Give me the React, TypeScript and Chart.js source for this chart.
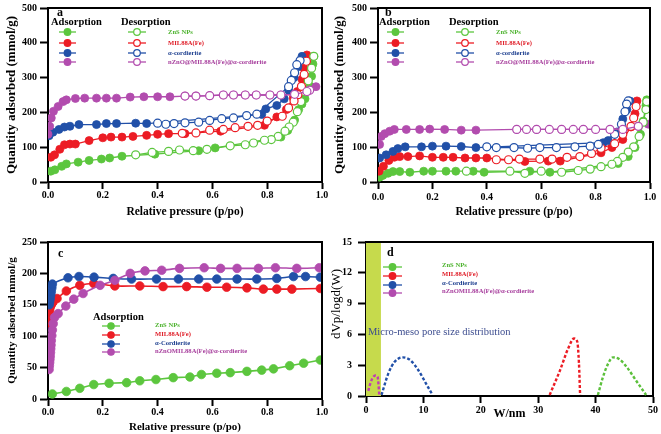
import React, { useEffect, useRef } from 'react';
import { Chart, registerables } from 'chart.js';
Chart.register(...registerables);

const W = 661;
const H = 434;
const FONT = '"Liberation Serif", "Times New Roman", serif';

const GREEN = '#5cc63e';
const RED = '#ec1c24';
const BLUE = '#2150a8';
const PINK = '#b24cae';
const TXT = ['#4db32e', '#e0202a', '#1d3f8f', '#a8409e'];
const BAND = '#c6da4c';

// ---------- tick labels ----------
const pressureTicks = ['0.0', '0.2', '0.4', '0.6', '0.8', '1.0'];
const abYTicks = ['0', '100', '200', '300', '400', '500'];
const cYTicks = ['0', '50', '100', '150', '200', '250'];
const dXTicks = ['0', '10', '20', '30', '40', '50'];
const dYTicks = ['0', '3', '6', '9', '12', '15'];

const namesAB = ['ZnS NPs', 'MIL88A(Fe)', 'α-cordierite', 'nZnO@MIL88A(Fe)@α-cordierite'];
const namesCD = ['ZnS NPs', 'MIL88A(Fe)', 'α-Cordierite', 'nZnOMIL88A(Fe)@α-cordierite'];

// ---------- panel a ----------
const aZnsAdsX = [0.01, 0.025, 0.05, 0.067, 0.11, 0.15, 0.195, 0.225, 0.27, 0.39, 0.55, 0.61, 0.85, 0.875, 0.9, 0.915, 0.927, 0.938, 0.957, 0.962, 0.967, 0.97];
const aZnsAdsY = [31, 35, 45, 52, 57, 62, 66, 69, 74, 80, 90, 98, 129, 148, 178, 208, 224, 239, 275, 304, 339, 361];
const aZnsDesX = [0.97, 0.962, 0.95, 0.934, 0.923, 0.91, 0.895, 0.88, 0.865, 0.84, 0.815, 0.79, 0.75, 0.72, 0.665, 0.58, 0.53, 0.48, 0.44, 0.38, 0.32];
const aZnsDesY = [361, 327, 291, 260, 231, 202, 172, 158, 146, 131, 122, 120, 112, 107, 104, 94, 90, 92, 88, 85, 78];

const aMilAdsX = [0.01, 0.024, 0.043, 0.06, 0.08, 0.1, 0.15, 0.2, 0.23, 0.27, 0.31, 0.36, 0.4, 0.44, 0.5, 0.63, 0.79, 0.835, 0.87, 0.895, 0.91, 0.927, 0.934, 0.945];
const aMilAdsY = [71, 78, 94, 107, 109, 109, 119, 127, 129, 129, 131, 134, 137, 139, 139, 146, 163, 187, 208, 242, 260, 295, 327, 365];
const aMilDesX = [0.943, 0.935, 0.925, 0.912, 0.898, 0.878, 0.855, 0.8, 0.765, 0.73, 0.683, 0.64, 0.59, 0.54, 0.49];
const aMilDesY = [347, 309, 275, 251, 233, 213, 189, 175, 163, 160, 156, 151, 149, 141, 140];

const aCorAdsX = [0.004, 0.018, 0.04, 0.06, 0.08, 0.113, 0.177, 0.213, 0.25, 0.32, 0.36, 0.78, 0.795, 0.835, 0.862, 0.878, 0.898, 0.912, 0.927];
const aCorAdsY = [133, 143, 151, 158, 160, 165, 165, 168, 168, 169, 168, 194, 210, 220, 239, 264, 300, 331, 361];
const aCorDesX = [0.92, 0.908, 0.9, 0.888, 0.878, 0.762, 0.725, 0.677, 0.634, 0.59, 0.55, 0.5, 0.46, 0.43, 0.4];
const aCorDesY = [349, 337, 314, 292, 274, 195, 191, 184, 182, 177, 172, 170, 168, 166, 169];

const aNzAdsX = [0.0, 0.006, 0.012, 0.02, 0.037, 0.055, 0.067, 0.1, 0.134, 0.177, 0.213, 0.25, 0.3, 0.35, 0.4, 0.445, 0.5, 0.54, 0.59, 0.64, 0.677, 0.72, 0.76, 0.81, 0.85, 0.9, 0.945, 0.978];
const aNzAdsY = [137, 160, 184, 203, 217, 231, 236, 240, 241, 241, 241, 241, 244, 245, 245, 245, 247, 247, 248, 250, 250, 250, 250, 250, 250, 252, 260, 274];
const aNzDesX = [0.955, 0.945, 0.9, 0.85, 0.81, 0.76, 0.72, 0.677, 0.64, 0.59, 0.54, 0.5];
const aNzDesY = [264, 260, 252, 250, 250, 250, 250, 250, 250, 248, 247, 247];

// ---------- panel b ----------
const bZnsAdsX = [0.006, 0.018, 0.037, 0.055, 0.08, 0.117, 0.168, 0.2, 0.25, 0.286, 0.35, 0.39, 0.558, 0.632, 0.883, 0.92, 0.945, 0.965, 0.975, 0.985, 0.988];
const bZnsAdsY = [14, 19, 25, 30, 30, 28, 31, 31, 31, 31, 31, 28, 31, 28, 53, 73, 99, 137, 175, 220, 236];
const bZnsDesX = [0.988, 0.985, 0.975, 0.96, 0.94, 0.92, 0.9, 0.88, 0.86, 0.82, 0.78, 0.736, 0.675, 0.6, 0.54, 0.485, 0.325];
const bZnsDesY = [231, 208, 172, 131, 101, 86, 71, 59, 51, 44, 37, 33, 28, 31, 25, 31, 31];

const bMilAdsX = [0.004, 0.02, 0.04, 0.06, 0.08, 0.11, 0.153, 0.2, 0.24, 0.276, 0.32, 0.36, 0.4, 0.54, 0.626, 0.67, 0.82, 0.86, 0.9, 0.93, 0.945, 0.952];
const bMilAdsY = [31, 45, 62, 71, 73, 73, 75, 71, 71, 71, 69, 69, 69, 59, 60, 60, 84, 99, 122, 158, 196, 233];
const bMilDesX = [0.949, 0.94, 0.93, 0.9, 0.87, 0.82, 0.785, 0.742, 0.695, 0.64, 0.595, 0.52, 0.48, 0.435];
const bMilDesY = [217, 184, 160, 137, 110, 97, 82, 73, 71, 66, 66, 66, 64, 64];

const bCorAdsX = [0.006, 0.03, 0.055, 0.073, 0.1, 0.16, 0.2, 0.25, 0.306, 0.36, 0.828, 0.846, 0.879, 0.9, 0.915, 0.926];
const bCorAdsY = [69, 78, 88, 96, 101, 101, 103, 103, 102, 99, 113, 119, 144, 181, 208, 233];
const bCorDesX = [0.92, 0.914, 0.908, 0.895, 0.87, 0.81, 0.78, 0.724, 0.656, 0.595, 0.55, 0.5, 0.435, 0.4];
const bCorDesY = [233, 224, 202, 166, 137, 108, 103, 101, 99, 99, 97, 99, 99, 101];

const bNzAdsX = [0.006, 0.012, 0.025, 0.043, 0.06, 0.104, 0.153, 0.19, 0.245, 0.306, 0.36, 0.51, 0.583, 0.675, 0.755, 0.853, 0.957, 0.994];
const bNzAdsY = [108, 131, 139, 146, 151, 151, 151, 152, 151, 149, 149, 151, 151, 151, 151, 151, 160, 166];
const bNzDesX = [0.957, 0.9, 0.853, 0.8, 0.755, 0.718, 0.675, 0.63, 0.583, 0.546, 0.51];
const bNzDesY = [160, 151, 151, 151, 151, 151, 151, 151, 151, 151, 151];

// ---------- panel c ----------
const cZnsX = [0.016, 0.067, 0.116, 0.167, 0.223, 0.287, 0.335, 0.394, 0.457, 0.518, 0.56, 0.616, 0.665, 0.726, 0.78, 0.823, 0.882, 0.933, 0.994];
const cZnsY = [8, 12, 17, 23, 25, 26, 29, 31, 34, 35, 39, 41, 42, 44, 46, 48, 53, 57, 62];
const cMilX = [0.002, 0.004, 0.006, 0.008, 0.012, 0.018, 0.033, 0.067, 0.116, 0.167, 0.244, 0.335, 0.42, 0.506, 0.58, 0.652, 0.726, 0.786, 0.835, 0.89, 0.994];
const cMilY = [121, 130, 140, 146, 150, 154, 160, 172, 181, 184, 180, 180, 179, 179, 178, 178, 177, 175, 175, 175, 176];
const cCorX = [0.004, 0.006, 0.008, 0.01, 0.012, 0.014, 0.016, 0.073, 0.113, 0.168, 0.238, 0.305, 0.396, 0.476, 0.55, 0.616, 0.69, 0.762, 0.835, 0.896, 0.94, 0.994];
const cCorY = [150, 155, 160, 166, 171, 177, 183, 193, 195, 194, 192, 191, 191, 191, 191, 191, 191, 191, 192, 195, 195, 194];
const cNzX = [0.004, 0.005, 0.006, 0.007, 0.008, 0.009, 0.01, 0.011, 0.012, 0.014, 0.016, 0.019, 0.024, 0.037, 0.065, 0.094, 0.128, 0.19, 0.244, 0.3, 0.354, 0.415, 0.48, 0.57, 0.63, 0.69, 0.768, 0.83, 0.908, 0.99];
const cNzY = [47, 53, 58, 63, 68, 74, 80, 86, 93, 101, 110, 120, 130, 136, 148, 159, 168, 181, 189, 200, 204, 205, 208, 209, 208, 208, 208, 209, 208, 209];

// ---------- panel d ----------
const dBandEnd = 2.6;
const dNzX = [0.4, 0.8, 1.2, 1.6, 2.0, 2.2, 2.3];
const dNzY = [0.5, 1.3, 1.8, 2.0, 1.9, 1.0, 0.1];
const dCorX = [2.7, 3.9, 5.0, 6.4, 7.7, 9.1, 10.6, 11.6];
const dCorY = [0.1, 2.2, 3.34, 3.76, 3.5, 2.53, 1.07, 0.1];
const dMilX = [32.0, 33.8, 35.2, 36.25, 36.8, 37.1, 37.3];
const dMilY = [0.1, 2.5, 4.6, 5.6, 5.3, 3.2, 0.1];
const dZnsX = [40.4, 41.3, 42.2, 43.0, 44.2, 45.6, 47.0, 48.8];
const dZnsY = [0.1, 1.88, 3.17, 3.76, 3.56, 2.69, 1.55, 0.1];

// ---------- helpers ----------
const pts = (xs: number[], ys: number[]) => xs.map((x, i) => ({ x, y: ys[i] }));

function series(label: string, xs: number[], ys: number[], color: string, filled: boolean, r = 4, lw = 1.3, tension = 0) {
  return {
    label,
    data: pts(xs, ys),
    borderColor: color,
    backgroundColor: color,
    borderWidth: lw,
    pointRadius: r,
    pointBorderWidth: filled ? 0.8 : 1.2,
    pointBackgroundColor: filled ? color : '#ffffff',
    pointBorderColor: color,
    fill: false,
    tension,
  };
}

function dashed(label: string, xs: number[], ys: number[], color: string) {
  return {
    label,
    data: pts(xs, ys),
    borderColor: color,
    borderWidth: 2.4,
    borderDash: [3, 2],
    pointRadius: 0,
    fill: false,
    cubicInterpolationMode: 'monotone',
  };
}

function tickFont(size = 10) {
  return { family: FONT, size, weight: 'bold', lineHeight: 1 };
}

function xAxis(o: any) {
  return {
    type: 'linear',
    min: o.min,
    max: o.max,
    ticks: {
      stepSize: o.step,
      autoSkip: false,
      maxRotation: 0,
      padding: o.pad,
      color: '#000',
      font: tickFont(),
      callback: (_v: any, i: number) => o.labels[i],
    },
    grid: { drawOnChartArea: false, drawTicks: true, tickLength: 7, tickWidth: 2, tickColor: '#000' },
    border: { display: true, color: '#000', width: 2 },
    title: { display: true, text: o.title, color: '#000', font: { family: FONT, size: o.tsize, weight: 'bold', lineHeight: 1.2 }, padding: 0 },
    afterFit: (s: any) => { s.height = o.h; },
  };
}

function yAxis(o: any) {
  return {
    type: 'linear',
    min: o.min,
    max: o.max,
    ticks: {
      stepSize: o.step,
      autoSkip: false,
      padding: o.pad,
      color: '#000',
      font: tickFont(),
      callback: (_v: any, i: number) => o.labels[i],
    },
    grid: { drawOnChartArea: false, drawTicks: true, tickLength: 8, tickWidth: 2, tickColor: '#000' },
    border: { display: true, color: '#000', width: 2 },
    title: { display: !!o.title, text: o.title || '', color: '#000', font: { family: FONT, size: o.tsize || 12, weight: 'bold', lineHeight: 1.2 }, padding: 0 },
    afterFit: (s: any) => { s.width = o.w; },
  };
}

const decorPlugin = {
  id: 'decor',
  beforeDatasetsDraw(chart: any, _a: any, opts: any) {
    if (opts && opts.band) {
      const { ctx, chartArea, scales } = chart;
      const x1 = scales.x.getPixelForValue(opts.band.from);
      const x2 = scales.x.getPixelForValue(opts.band.to);
      ctx.save();
      ctx.fillStyle = opts.band.color;
      ctx.fillRect(x1, chartArea.top, x2 - x1, chartArea.bottom - chartArea.top);
      ctx.restore();
    }
  },
  afterDraw(chart: any, _a: any, opts: any) {
    const { ctx, chartArea } = chart;
    ctx.save();
    ctx.strokeStyle = '#000';
    ctx.lineWidth = 2;
    ctx.beginPath();
    ctx.moveTo(chartArea.left, chartArea.top);
    ctx.lineTo(chartArea.right, chartArea.top);
    ctx.lineTo(chartArea.right, chartArea.bottom);
    ctx.stroke();
    const markers = (opts && opts.markers) || [];
    for (const m of markers) {
      ctx.strokeStyle = m.color;
      ctx.lineWidth = 1.3;
      ctx.beginPath();
      ctx.moveTo(m.x1, m.y);
      ctx.lineTo(m.x2, m.y);
      ctx.stroke();
      ctx.beginPath();
      ctx.arc((m.x1 + m.x2) / 2, m.y, m.r, 0, Math.PI * 2);
      ctx.fillStyle = m.filled ? m.color : '#ffffff';
      ctx.fill();
      ctx.lineWidth = 1.2;
      ctx.stroke();
    }
    const texts = (opts && opts.texts) || [];
    for (const t of texts) {
      ctx.save();
      ctx.font = t.font;
      ctx.fillStyle = t.color;
      ctx.textAlign = t.align || 'left';
      ctx.textBaseline = 'middle';
      ctx.translate(t.x, t.y);
      if (t.rotate) ctx.rotate(t.rotate);
      ctx.fillText(t.text, 0, 0);
      ctx.restore();
    }
    ctx.restore();
  },
};

const colors = [GREEN, RED, BLUE, PINK];

function legendAB(ox: number, letter: string) {
  const rows = [32, 43, 53, 62];
  const markers: any[] = [];
  const texts: any[] = [
    { text: letter, x: ox + 57, y: 12.5, font: `bold 12px ${FONT}`, color: '#000' },
    { text: 'Adsorption', x: ox + 51, y: 22, font: `bold 10.5px ${FONT}`, color: '#000' },
    { text: 'Desorption', x: ox + 121, y: 22, font: `bold 10.5px ${FONT}`, color: '#000' },
  ];
  rows.forEach((y, i) => {
    markers.push({ x1: ox + 59, x2: ox + 76, y, r: 3.3, color: colors[i], filled: true });
    markers.push({ x1: ox + 128, x2: ox + 146, y, r: 3.3, color: colors[i], filled: false });
    texts.push({ text: namesAB[i], x: ox + 168, y, font: `bold 6.6px ${FONT}`, color: TXT[i] });
  });
  return { markers, texts };
}

function makeAB(which: 'a' | 'b') {
  const isA = which === 'a';
  const ox = isA ? 0 : 328;
  const l = isA ? 48 : 378;
  const r = isA ? 322 : 650;
  const padL = isA ? 4.2 : 332.2;
  const top = 5;
  const bottom = 182;
  const xh = 36.9;
  const d = isA
    ? [aZnsAdsX, aZnsAdsY, aZnsDesX, aZnsDesY, aMilAdsX, aMilAdsY, aMilDesX, aMilDesY, aCorAdsX, aCorAdsY, aCorDesX, aCorDesY, aNzAdsX, aNzAdsY, aNzDesX, aNzDesY]
    : [bZnsAdsX, bZnsAdsY, bZnsDesX, bZnsDesY, bMilAdsX, bMilAdsY, bMilDesX, bMilDesY, bCorAdsX, bCorAdsY, bCorDesX, bCorDesY, bNzAdsX, bNzAdsY, bNzDesX, bNzDesY];
  const des = [3, 2, 1, 0].map((k) => series(namesAB[k] + ' desorption', d[k * 4 + 2], d[k * 4 + 3], colors[k], false));
  const ads = [3, 2, 1, 0].map((k) => series(namesAB[k] + ' adsorption', d[k * 4], d[k * 4 + 1], colors[k], true));
  const lg = legendAB(ox, which);
  return {
    type: 'line',
    data: { datasets: [...des, ...ads] },
    options: {
      responsive: false,
      animation: false,
      events: [],
      layout: { padding: { left: padL, right: W - r, top, bottom: H - bottom - xh } },
      plugins: { legend: { display: false }, tooltip: { enabled: false }, decor: { markers: lg.markers, texts: lg.texts } },
      scales: {
        x: xAxis({ min: 0, max: 1, step: 0.2, labels: pressureTicks, pad: isA ? 1 : 3, title: 'Relative pressure (p/po)', tsize: 11.5, h: xh }),
        y: yAxis({ min: 0, max: 500, step: 100, labels: abYTicks, pad: 3, title: 'Quantity adsorbed (mmol/g)', tsize: 13, w: l - padL }),
      },
    },
    plugins: [decorPlugin],
  };
}

function makeC() {
  const l = 48, r = 322, top = 242, bottom = 399, padL = 5.9, xh = 34.6;
  const rows = [326, 335, 344, 352];
  const markers = rows.map((y, i) => ({ x1: 102, x2: 120, y, r: 3.2, color: colors[i], filled: true }));
  const texts: any[] = [
    { text: 'c', x: 58, y: 254, font: `bold 12px ${FONT}`, color: '#000' },
    { text: 'Adsorption', x: 93, y: 317, font: `bold 10.5px ${FONT}`, color: '#000' },
    ...rows.map((y, i) => ({ text: namesCD[i], x: 155, y: y - 1, font: `bold 6.6px ${FONT}`, color: TXT[i] })),
  ];
  return {
    type: 'line',
    data: {
      datasets: [
        series(namesCD[3], cNzX, cNzY, PINK, true, 4.3, 1.6, 0.3),
        series(namesCD[2], cCorX, cCorY, BLUE, true, 4.3, 1.6, 0.3),
        series(namesCD[1], cMilX, cMilY, RED, true, 4.3, 1.6, 0.3),
        series(namesCD[0], cZnsX, cZnsY, GREEN, true, 4.3, 1.6, 0),
      ],
    },
    options: {
      responsive: false,
      animation: false,
      events: [],
      layout: { padding: { left: padL, right: W - r, top, bottom: H - bottom - xh } },
      plugins: { legend: { display: false }, tooltip: { enabled: false }, decor: { markers, texts } },
      scales: {
        x: xAxis({ min: 0, max: 1, step: 0.2, labels: pressureTicks, pad: 1, title: 'Relative pressure (p/po)', tsize: 11, h: xh }),
        y: yAxis({ min: 0, max: 250, step: 50, labels: cYTicks, pad: 3, title: 'Quantity adsorbed mmol/g', tsize: 11, w: l - padL }),
      },
    },
    plugins: [decorPlugin],
  };
}

function makeD() {
  const l = 366, r = 653, top = 242, bottom = 396, padL = 330, xh = 25.2;
  const rows = [267, 276, 285, 293];
  const markers = rows.map((y, i) => ({ x1: 383, x2: 402, y, r: 3.3, color: colors[i], filled: true }));
  const texts: any[] = [
    { text: 'd', x: 387, y: 253, font: `bold 12px ${FONT}`, color: '#000' },
    ...rows.map((y, i) => ({ text: namesCD[i], x: 442, y: y - 2, font: `bold 6.6px ${FONT}`, color: TXT[i] })),
    { text: 'Micro-meso pore size distribution', x: 368, y: 332, font: `10.5px ${FONT}`, color: '#3d4d8f' },
    { text: 'dVp/logd(W)', x: 337, y: 304, font: `13px ${FONT}`, color: '#000', align: 'center', rotate: -Math.PI / 2 },
  ];
  return {
    type: 'line',
    data: {
      datasets: [
        dashed(namesCD[3], dNzX, dNzY, '#c03cb4'),
        dashed(namesCD[2], dCorX, dCorY, BLUE),
        dashed(namesCD[1], dMilX, dMilY, RED),
        dashed(namesCD[0], dZnsX, dZnsY, '#5cc03c'),
      ],
    },
    options: {
      responsive: false,
      animation: false,
      events: [],
      layout: { padding: { left: padL, right: W - r, top, bottom: H - bottom - xh } },
      plugins: {
        legend: { display: false },
        tooltip: { enabled: false },
        decor: { band: { from: 0, to: dBandEnd, color: BAND }, markers, texts },
      },
      scales: {
        x: xAxis({ min: 0, max: 50, step: 10, labels: dXTicks, pad: 2, title: 'W/nm', tsize: 12, h: xh }),
        y: yAxis({ min: 0, max: 15, step: 3, labels: dYTicks, pad: 6, title: '', w: l - padL }),
      },
    },
    plugins: [decorPlugin],
  };
}

function ChartCanvas({ make }: { make: () => any }) {
  const ref = useRef<HTMLCanvasElement>(null);
  useEffect(() => {
    if (!ref.current) return;
    const chart = new Chart(ref.current, make());
    return () => chart.destroy();
  }, [make]);
  return (
    <canvas
      ref={ref}
      width={W}
      height={H}
      style={{ position: 'absolute', left: 0, top: 0, width: W, height: H }}
    />
  );
}

const makers = [() => makeAB('a'), () => makeAB('b'), makeC, makeD];

export default function App() {
  return (
    <div style={{ position: 'absolute', left: 0, top: 0, width: W, height: H, background: '#ffffff', overflow: 'hidden' }}>
      {makers.map((m, i) => (
        <ChartCanvas key={i} make={m} />
      ))}
    </div>
  );
}
